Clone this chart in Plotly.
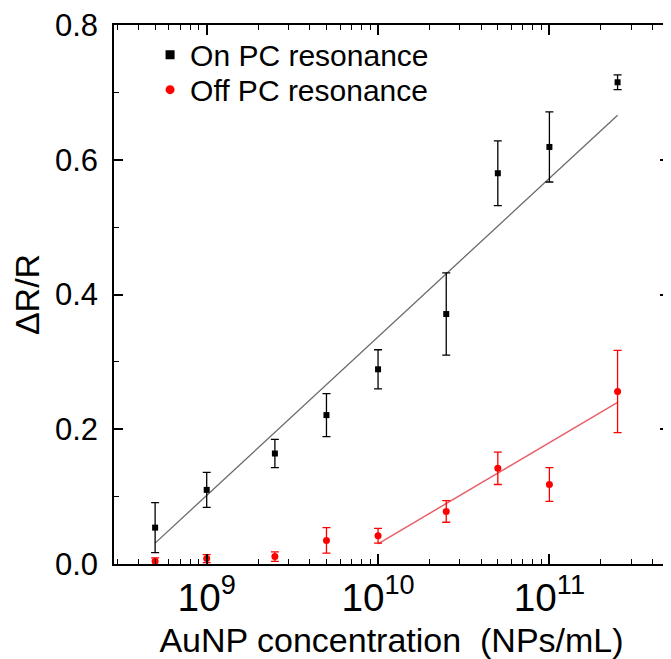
import plotly.graph_objects as go

# ---- data ----
conc = [5e8, 1e9, 2.5e9, 5e9, 1e10, 2.5e10, 5e10, 1e11, 2.5e11]
on_vals = [0.054, 0.110, 0.164, 0.221, 0.289, 0.371, 0.580, 0.619, 0.715]
on_err = [0.037, 0.026, 0.021, 0.032, 0.029, 0.061, 0.048, 0.052, 0.011]
off_vals = [0.004, 0.008, 0.011, 0.035, 0.042, 0.078, 0.142, 0.118, 0.256]
off_err = [0.005, 0.006, 0.007, 0.019, 0.011, 0.016, 0.024, 0.025, 0.061]

on_fit_x = [5e8, 2.5e11]
on_fit_y = [0.031, 0.666]
off_fit_x = [1e10, 2.5e11]
off_fit_y = [0.030, 0.240]

series_names = ["On PC resonance", "Off PC resonance"]
x_title = "AuNP concentration  (NPs/mL)"
y_title = "ΔR/R"

FONT = "Liberation Sans, Arial, sans-serif"
BLACK = "black"
RED = "#ff0000"

fig = go.Figure()
fig.add_trace(go.Scatter(x=on_fit_x, y=on_fit_y, mode="lines",
                         line=dict(color="#6a6a6a", width=1.3),
                         showlegend=False, hoverinfo="skip"))
fig.add_trace(go.Scatter(x=off_fit_x, y=off_fit_y, mode="lines",
                         line=dict(color="#e8606a", width=1.5),
                         showlegend=False, hoverinfo="skip"))
fig.add_trace(go.Scatter(x=conc, y=on_vals, mode="markers", showlegend=False,
                         marker=dict(symbol="square", size=6, color=BLACK),
                         error_y=dict(type="data", array=on_err, color=BLACK,
                                      thickness=1.3, width=4),
                         cliponaxis=False))
fig.add_trace(go.Scatter(x=conc, y=off_vals, mode="markers", showlegend=False,
                         marker=dict(symbol="circle", size=7, color=RED),
                         error_y=dict(type="data", array=off_err, color=RED,
                                      thickness=1.3, width=4),
                         cliponaxis=False))
# legend entries (larger symbols, as in the reference legend)
fig.add_trace(go.Scatter(x=[None], y=[None], mode="markers", name=series_names[0],
                         marker=dict(symbol="square", size=9, color=BLACK),
                         legend="legend"))
fig.add_trace(go.Scatter(x=[None], y=[None], mode="markers", name=series_names[1],
                         marker=dict(symbol="circle", size=9, color=RED),
                         legend="legend2"))

# page body adds an 8px offset; size the figure so that it fits the window
fig.update_layout(
    width=663, height=651,
    margin=dict(l=106, r=0, t=15, b=92),
    plot_bgcolor="white", paper_bgcolor="white",
    font=dict(family=FONT, color="black", size=30),
    showlegend=True,
    legend=dict(x=0.065, y=0.945, xanchor="left", yanchor="middle",
                bgcolor="rgba(0,0,0,0)", font=dict(size=30), itemwidth=30),
    legend2=dict(x=0.065, y=0.88, xanchor="left", yanchor="middle",
                 bgcolor="rgba(0,0,0,0)", font=dict(size=30), itemwidth=30),
)
fig.update_xaxes(
    type="log", range=[8.459, 11.698],
    showline=True, linecolor="black", linewidth=1.5, mirror="ticks",
    ticks="inside", ticklen=10, tickwidth=1.5, tickcolor="black",
    dtick=1, exponentformat="power", showexponent="all",
    showgrid=False, zeroline=False, tickfont=dict(size=31),
    title=dict(text=x_title, font=dict(size=34), standoff=16),
    minor=dict(ticks="inside", ticklen=5, tickwidth=1.2, tickcolor="black",
               dtick="D1", showgrid=False),
)
fig.update_yaxes(
    range=[0, 0.8], dtick=0.2, tickformat=".1f",
    showline=True, linecolor="black", linewidth=1.5, mirror="ticks",
    ticks="inside", ticklen=9, tickwidth=1.5, tickcolor="black",
    showgrid=False, zeroline=False, tickfont=dict(size=31),
    ticklabelstandoff=8, ticklabeloverflow="allow",
    title=dict(text=y_title, font=dict(size=34)),
    minor=dict(ticks="inside", ticklen=5, tickwidth=1.2, tickcolor="black",
               dtick=0.1, showgrid=False),
)

fig.write_html("out.html")
